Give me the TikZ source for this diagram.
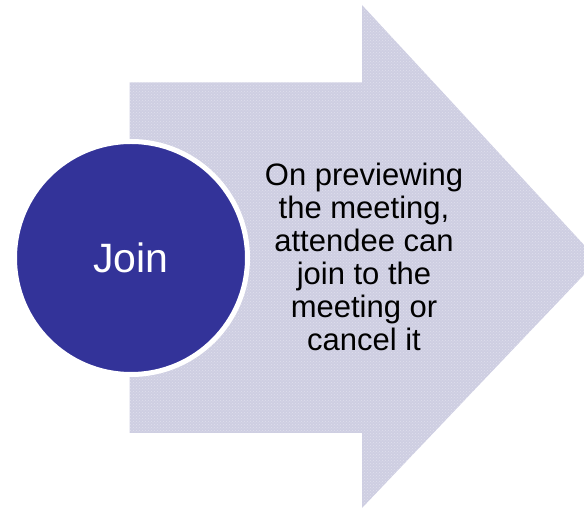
\documentclass[tikz,border=0pt]{standalone}
\usepackage{fontspec}
\setmainfont{Liberation Sans}
\usetikzlibrary{patterns}
\definecolor{arrowfill}{RGB}{206,206,226}
\definecolor{circfill}{RGB}{51,51,153}
\tikzset{
  bigarrow/.style={fill=arrowfill, draw=none},
  circbox/.style={circle, fill=circfill, draw=white, line width=5pt, minimum size=233pt, inner sep=0pt, text=white, font=\fontsize{41}{49}\selectfont},
  desctext/.style={align=center, text=black, inner sep=0pt, font=\fontsize{31}{33}\selectfont}
}
\begin{document}
\begin{tikzpicture}[x=1pt,y=-1pt]
\useasboundingbox (0,0) rectangle (584,510);
\clip (0,0) rectangle (584,510);
\path[bigarrow] (129.5,82.5) -- (362,82.5) -- (362,5) -- (598,260) -- (362,508) -- (362,433) -- (129.5,433) -- cycle;
\path[pattern=crosshatch dots, pattern color=white, opacity=0.35] (129.5,82.5) -- (362,82.5) -- (362,5) -- (598,260) -- (362,508) -- (362,433) -- (129.5,433) -- cycle;
\node[circbox] (join) at (131,258) {Join};
\node[desctext] (desc) at (364,256.5) {On previewing\\the meeting,\\attendee can\\join to the\\meeting or\\cancel it};
\end{tikzpicture}
\end{document}
